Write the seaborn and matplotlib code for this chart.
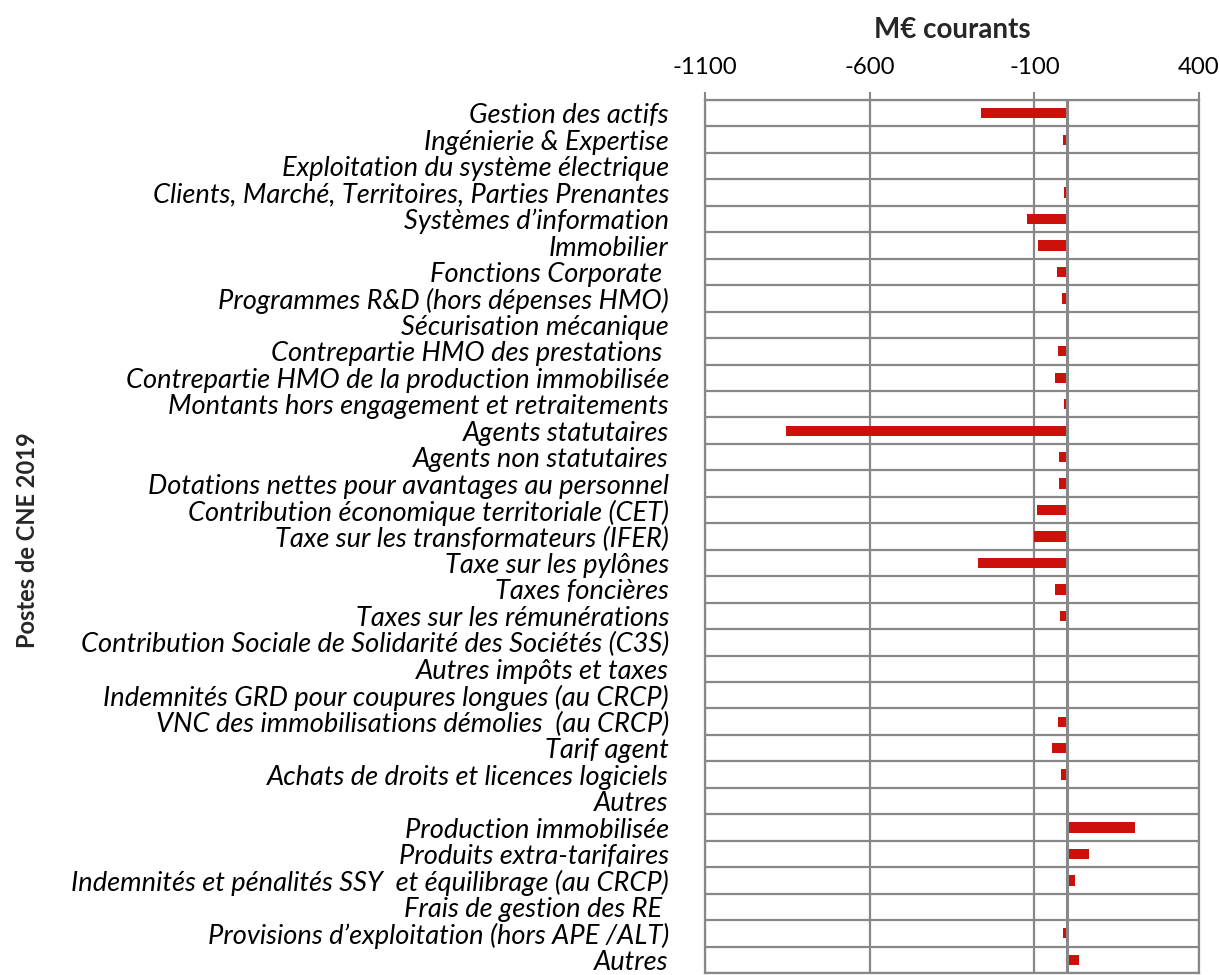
import matplotlib
matplotlib.use("Agg")
import matplotlib.pyplot as plt
import seaborn as sns
import pandas as pd
import numpy as np

categories = [
    "Gestion des actifs",
    "Ingénierie & Expertise",
    "Exploitation du système électrique",
    "Clients, Marché, Territoires, Parties Prenantes",
    "Systèmes d’information",
    "Immobilier",
    "Fonctions Corporate ",
    "Programmes R&D (hors dépenses HMO)",
    "Sécurisation mécanique",
    "Contrepartie HMO des prestations ",
    "Contrepartie HMO de la production immobilisée",
    "Montants hors engagement et retraitements",
    "Agents statutaires",
    "Agents non statutaires",
    "Dotations nettes pour avantages au personnel",
    "Contribution économique territoriale (CET)",
    "Taxe sur les transformateurs (IFER)",
    "Taxe sur les pylônes",
    "Taxes foncières",
    "Taxes sur les rémunérations",
    "Contribution Sociale de Solidarité des Sociétés (C3S)",
    "Autres impôts et taxes",
    "Indemnités GRD pour coupures longues (au CRCP)",
    "VNC des immobilisations démolies  (au CRCP)",
    "Tarif agent",
    "Achats de droits et licences logiciels",
    "Autres",
    "Production immobilisée",
    "Produits extra-tarifaires",
    "Indemnités et pénalités SSY  et équilibrage (au CRCP)",
    "Frais de gestion des RE ",
    "Provisions d’exploitation (hors APE /ALT)",
    "Autres",
]

values = [
    -263, -14, -4, -10, -123, -88, -32, -15, 0, -28, -36, -9, -854, -24, -24,
    -93, -101, -271, -38, -22, -5, -2, 0, -27, -45, -18, 0, 205, 66, 22, 6, -12, 36,
]

x_ticks = [-1100, -600, -100, 400]
x_title = "M€ courants"
y_title = "Postes de CNE 2019"

sns.set_theme(style="white")
plt.rcParams['font.family'] = ['Lato', 'DejaVu Sans']

W, H = 1220, 975
fig = plt.figure(figsize=(W / 100, H / 100), dpi=100)
left, right, top, bottom = 705, 1199, 100, 973
ax = fig.add_axes([left / W, 1 - bottom / H, (right - left) / W, (bottom - top) / H])

n = len(categories)
df = pd.DataFrame({"key": [str(i) for i in range(n)], "value": values})
sns.barplot(data=df, x="value", y="key", order=list(df["key"]), color="#CC100A",
            saturation=1, width=0.39, edgecolor="none", ax=ax)

grid_c = "#888888"
ax.set_axisbelow(True)
ax.set_xlim(-1100, 400)
ax.set_xticks(x_ticks)
ax.set_xticklabels([str(t) for t in x_ticks])
ax.xaxis.tick_top()
ax.set_xlabel("")
ax.set_ylabel("")
ax.set_yticks(range(n))
ax.set_yticklabels(categories, fontstyle="italic", fontsize=19.6, color="black")
ax.set_yticks(np.arange(-0.5, n, 1), minor=True)
ax.set_ylim(n - 0.5, -0.5)

ax.grid(which="major", axis="x", color=grid_c, lw=1.6)
ax.grid(which="minor", axis="y", color=grid_c, lw=1.6)
ax.grid(which="major", axis="y", visible=False)
ax.axvline(0, color=grid_c, lw=2.2, zorder=5)
for s in ax.spines.values():
    s.set_color(grid_c)
    s.set_linewidth(1.6)

ax.tick_params(axis="y", which="both", length=0, pad=26)
ax.tick_params(axis="x", which="major", top=True, bottom=False, length=6, width=1.5,
               color=grid_c, pad=9.5, labelsize=17.3, labelcolor="black")

fig.text(952 / W, 1 - 30 / H, x_title, ha="center", va="center",
         fontweight="bold", fontsize=20)
fig.text(28 / W, 1 - 540 / H, y_title, ha="center", va="center",
         rotation=90, fontweight="bold", fontsize=17)

fig.savefig("out.png", dpi=100)
